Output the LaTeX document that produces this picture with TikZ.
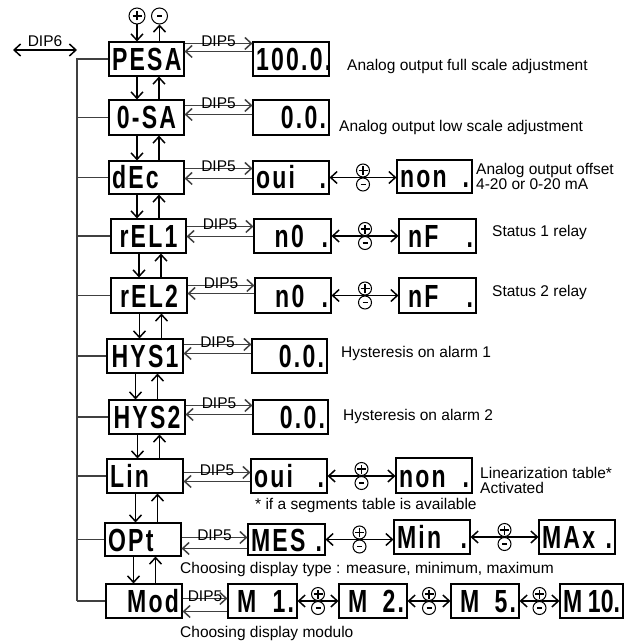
\documentclass[tikz,border=0pt]{standalone}
\usepackage{fontspec}
\setmainfont{Liberation Sans}
\newfontfamily\segfont[FakeStretch=0.72,LetterSpace=7]{Liberation Sans}
\usetikzlibrary{arrows.meta,calc,positioning}
\tikzset{
  >={Straight Barb[length=6.5pt,width=12pt,line width=1.5pt]},
  seg/.style={draw,line width=1.1pt,inner xsep=3pt,inner ysep=0pt,text height=23pt,text depth=0pt,
    font=\segfont\bfseries\fontsize{32}{32}\selectfont},
  lbl/.style={anchor=west,inner sep=0pt,align=left,font=\fontsize{15.5}{15}\selectfont},
  dip/.style={inner sep=0pt,anchor=base,font=\fontsize{15.5}{15}\selectfont},
  wire/.style={line width=1.1pt,draw=black!75},
  arr/.style={line width=1.1pt,->},
  pluscirc/.style={circle,draw,line width=1pt,minimum size=13pt,inner sep=0pt,
    path picture={\draw[line width=1.1pt] ([xshift=-4.5pt]path picture bounding box.center) -- ([xshift=4.5pt]path picture bounding box.center)
      ([yshift=-4.5pt]path picture bounding box.center) -- ([yshift=4.5pt]path picture bounding box.center);}},
  minuscirc/.style={circle,draw,line width=1pt,minimum size=13pt,inner sep=0pt,
    path picture={\draw[line width=1.1pt] ([xshift=-2.5pt]path picture bounding box.center) -- ([xshift=2.5pt]path picture bounding box.center);}},
}
\newcommand\dbox[7]{%
  \pgfmathsetmacro\dbW{#4-#2}\pgfmathsetmacro\dbH{#5-#3}%
  \pgfmathsetmacro\dbX{(#2+#4)/2}\pgfmathsetmacro\dbY{(#3+#5)/2}\pgfmathsetmacro\dbT{#4-#2-6}%
  \node[seg,minimum width=\dbW pt,minimum height=\dbH pt,text width=\dbT pt,#7] (#1) at (\dbX,\dbY) {#6};}
\newcommand\dipfive[5]{% label name, main, value, top offset, bottom offset
  \draw[arr,draw=black!75] ([yshift=-#4pt]#2.north east) -- ([yshift=-#4pt]#2.north east -| #3.west)
     node[dip,midway,yshift=-3pt] (#1) {DIP5};
  \draw[arr,draw=black!75] ([yshift=-#5pt]#2.north east -| #3.west) -- ([yshift=-#5pt]#2.north east);}
\newcommand\pmpair[3]{% name, left, right
  \draw[line width=1.1pt,<->] (#2.east) -- (#2.east -| #3.west) coordinate[midway] (#1);
  \node[pluscirc,anchor=south,fill=white] (#1p) at (#1) {};
  \node[minuscirc,anchor=north,fill=white] (#1m) at (#1) {};}
\begin{document}
\begin{tikzpicture}[x=1pt,y=-1pt]
\useasboundingbox (0,0) rectangle (627,644);
% main column
\dbox{b1}{109}{42}{184}{76}{PESA}{align=center}
\dbox{b2}{109}{100}{184}{135}{0-SA}{align=center}
\dbox{b3}{109}{161}{184}{194}{dEc}{align=left}
\dbox{b4}{111}{219}{186}{253}{rEL1}{align=center}
\dbox{b5}{111}{278}{187}{313}{rEL2}{align=center}
\dbox{b6}{107}{339}{183}{373}{HYS1}{align=center}
\dbox{b7}{109}{400}{185}{434}{HYS2}{align=center}
\dbox{b8}{107}{459}{183}{493}{Lin}{align=left}
\dbox{b9}{105}{523}{181}{556}{OPt}{align=left}
\dbox{b10}{106}{584}{182}{618}{Mod}{align=right}
% value boxes
\dbox{v1}{253}{42}{329}{76}{100.0.}{align=right}
\dbox{v2}{253}{100}{329}{135}{0.0.}{align=right}
\dbox{v3}{253}{161}{329}{194}{oui\hfill.}{align=left}
\dbox{w3}{397}{160}{472}{193}{non\hfill.}{align=left}
\dbox{v4}{254}{219}{331}{253}{\hspace*{0pt}\hfill n0\hfill.}{align=left}
\dbox{w4}{399}{219}{476}{253}{\hspace*{6pt}nF\hfill.\hspace*{6pt}}{align=left}
\dbox{v5}{255}{278}{331}{313}{\hspace*{0pt}\hfill n0\hfill.}{align=left}
\dbox{w5}{399}{278}{476}{313}{\hspace*{6pt}nF\hfill.\hspace*{6pt}}{align=left}
\dbox{v6}{252}{339}{327}{373}{0.0.}{align=right}
\dbox{v7}{253}{400}{328}{434}{0.0.}{align=right}
\dbox{v8}{251}{459}{327}{493}{oui\hfill.}{align=left}
\dbox{w8}{396}{458}{472}{493}{non\hfill.}{align=left}
\dbox{v9}{248}{524}{325}{555}{MES\hfill.}{align=left}
\dbox{w9}{394}{520}{470}{554}{Min\hfill.}{align=left}
\dbox{x9}{539}{520}{615}{554}{MAx\hfill.}{align=left}
\dbox{v10}{228}{584}{297}{618}{\hspace*{6pt}M\hfill 1.}{align=left}
\dbox{w10}{339}{584}{407}{618}{\hspace*{6pt}M\hfill 2.}{align=left}
\dbox{x10}{451}{584}{519}{618}{\hspace*{6pt}M\hfill 5.}{align=left}
\dbox{y10}{560}{584}{623}{618}{\addfontfeature{LetterSpace=0}M\hfill 10.}{align=left}
% top plus/minus
\node[pluscirc,minimum size=16pt] (p0) at (137,16) {};
\node[minuscirc,minimum size=16pt] (m0) at (159.5,16) {};
\draw[arr] (p0) -- (p0 |- b1.north);
\draw[arr] (m0 |- b1.north) -- (m0);
% vertical arrows between main boxes
\foreach \a/\b in {b1/b2,b2/b3,b3/b4,b4/b5,b5/b6,b6/b7,b7/b8,b8/b9,b9/b10}{
  \draw[arr] ([xshift=-9.5pt]\a.south) -- ([xshift=-9.5pt]\a.south |- \b.north);
  \draw[arr] ([xshift=12.5pt]\a.south |- \b.north) -- ([xshift=12.5pt]\a.south);
}
% bus
\coordinate (bus) at (77,58);
\draw[wire] (bus) -- (bus |- b10.west);
\foreach \b in {b1,b2,b3,b4,b5,b6,b7,b8,b9,b10}{
  \draw[wire] (\b.west -| bus) -- (\b.west);
}
% DIP6
\coordinate (d6l) at (13,50);
\coordinate (d6r) at (77,50);
\draw[line width=1.1pt,<->] (d6l) -- (d6r);
\node[dip] (dip6) at (45,47) {DIP6};
% DIP5 arrows
\dipfive{d1}{b1}{v1}{2}{10}
\dipfive{d2}{b2}{v2}{6}{15}
\dipfive{d3}{b3}{v3}{8}{18}
\dipfive{d4}{b4}{v4}{8}{18}
\dipfive{d5}{b5}{v5}{8}{16}
\dipfive{d6}{b6}{v6}{6}{15}
\dipfive{d7}{b7}{v7}{6}{15}
\dipfive{d8}{b8}{v8}{14}{23}
\dipfive{d9}{b9}{v9}{15}{26}
\dipfive{d10}{b10}{v10}{15}{28}
% plus/minus pairs
\pmpair{q3}{v3}{w3}
\pmpair{q4}{v4}{w4}
\pmpair{q5}{v5}{w5}
\pmpair{q8}{v8}{w8}
\pmpair{q9a}{v9}{w9}
\pmpair{q9b}{w9}{x9}
\pmpair{q10a}{v10}{w10}
\pmpair{q10b}{w10}{x10}
\pmpair{q10c}{x10}{y10}
% labels
\node[lbl] (l1) at (347,66) {Analog output full scale adjustment};
\node[lbl] (l2) at (339,127) {Analog output low scale adjustment};
\node[lbl] (l3) at (476,176) {Analog output offset\\4-20 or 0-20 mA};
\node[lbl] (l4) at (492,232) {Status 1 relay};
\node[lbl] (l5) at (492,292) {Status 2 relay};
\node[lbl] (l6) at (341,353) {Hysteresis on alarm 1};
\node[lbl] (l7) at (343,416) {Hysteresis on alarm 2};
\node[lbl] (l8) at (480,480) {Linearization table*\\Activated};
\node[lbl] (l8b) at (255,505) {* if a segments table is available};
\node[lbl] (l9) at (180,569) {Choosing display type : measure, minimum, maximum};
\node[lbl] (l10) at (180,633) {Choosing display modulo};
\end{tikzpicture}
\end{document}
